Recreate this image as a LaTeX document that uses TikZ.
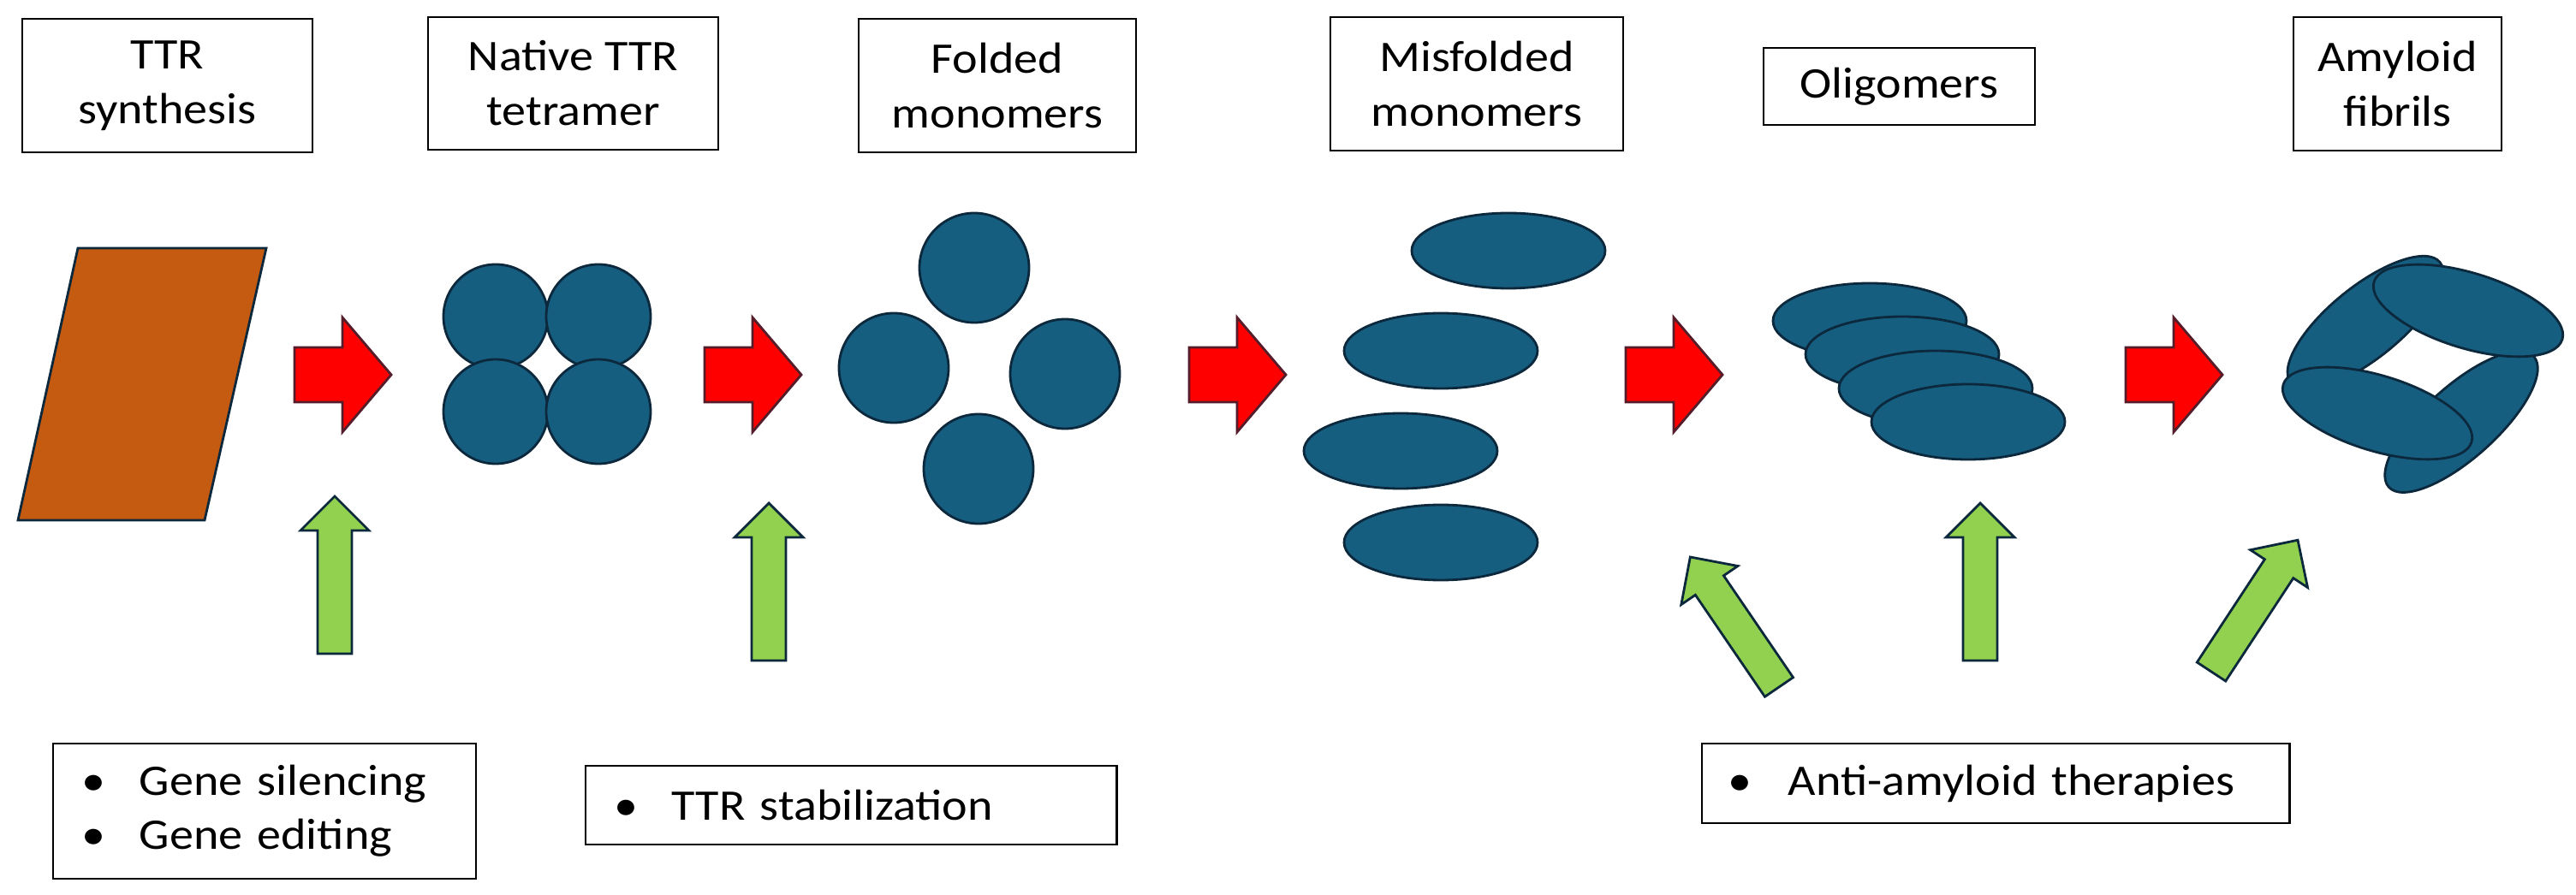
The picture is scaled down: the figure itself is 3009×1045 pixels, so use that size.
\documentclass[tikz,border=0pt]{standalone}
\usepackage{fontspec}
\setmainfont{Carlito}[FakeStretch=1.1]
\definecolor{blu}{RGB}{22,94,128}
\definecolor{navy}{RGB}{12,40,60}
\definecolor{grn}{RGB}{146,208,80}
\definecolor{rust}{RGB}{197,90,17}
\tikzset{
  lbl/.style={draw=black,line width=0.75pt,align=center,inner sep=0pt,font=\fontsize{14.5pt}{18.2pt}\selectfont},
  lst/.style={draw=black,line width=0.75pt,align=left,inner ysep=0pt,inner xsep=0.34cm,font=\fontsize{14.5pt}{18pt}\selectfont},
  blob/.style={fill=blu,draw=navy,line width=0.8pt},
  redarr/.style={fill=red,draw=navy!70!red,line width=0.8pt},
  grnarr/.style={fill=grn,draw=navy,line width=0.8pt}
}
\newcommand\myredarrow[1]{\path[redarr] (#1,639)--++(56,0)--++(0,35)--(#1+113,607)--(#1+56,540)--++(0,35)--(#1,575)--cycle;}
\newcommand\mygreenarrow[3]{\begin{scope}[shift={(#1,#2)},rotate=#3]\path[grnarr] (-20,0)--(20,0)--(20,144)--(40,144)--(0,184)--(-40,144)--(-20,144)--cycle;\end{scope}}
\newcommand\bul[1]{\makebox[0.67cm][l]{\textbullet}#1}
\begin{document}
\begin{tikzpicture}[x=0.01cm,y=0.01cm]
\useasboundingbox (0,0) rectangle (3009,1045);
% top labels
\node[lbl,minimum width=3.39cm,minimum height=1.56cm] (b1) at (195.5,945) {TTR\\synthesis};
\node[lbl,minimum width=3.39cm,minimum height=1.55cm] (b2) at (669.5,947.5) {Native TTR\\tetramer};
\node[lbl,minimum width=3.24cm,minimum height=1.56cm] (b3) at (1165,945) {Folded\\monomers};
\node[lbl,minimum width=3.42cm,minimum height=1.56cm] (b4) at (1725,947) {Misfolded\\monomers};
\node[lbl,minimum width=3.17cm,minimum height=0.90cm] (b5) at (2218.5,944) {Oligomers};
\node[lbl,minimum width=2.43cm,minimum height=1.56cm] (b6) at (2800.5,947) {Amyloid\\fibrils};
% bottom labels
\node[lst,text width=4.26cm,minimum height=1.58cm] (g) at (309,97) {\bul{Gene silencing}\\\bul{Gene editing}};
\node[lst,text width=5.52cm,minimum height=0.92cm] (t) at (994,104) {\bul{TTR stabilization}};
\node[lst,text width=6.18cm,minimum height=0.93cm,inner xsep=0.31cm,text width=6.24cm] (a) at (2331,129.5) {\makebox[0.70cm][l]{\textbullet}Anti-amyloid therapies};
% synthesis
\path[fill=rust,draw=navy,line width=0.8pt] (91,755)--(311,755)--(239,437)--(21,437)--cycle;
% tetramer
\foreach \p in {(579,675),(699,675),(579,564),(699,564)} \path[blob] \p circle (61);
% folded monomers
\foreach \p in {(1138,732),(1044,615),(1244,608),(1143,497)} \path[blob] \p circle (64);
% misfolded
\foreach \p in {(1762,752),(1683,635),(1636,518),(1683,411)} \path[blob] \p ellipse (113 and 44);
% oligomers
\foreach \p in {(2184,670),(2222,631),(2261,591),(2299,552)} \path[blob] \p ellipse (113 and 44);
% fibrils
\path[blob,rotate around={39:(2763,668)}] (2763,668) ellipse (112 and 42);
\path[blob,rotate around={42:(2875,552)}] (2875,552) ellipse (114 and 42);
\path[blob,rotate around={-17:(2883,682)}] (2883,682) ellipse (115 and 44);
\path[blob,rotate around={-17:(2777,562)}] (2777,562) ellipse (115 and 44);
% red arrows
\myredarrow{344}\myredarrow{823}\myredarrow{1389}\myredarrow{1899}\myredarrow{2483}
% green arrows
\mygreenarrow{391}{281}{0}
\mygreenarrow{898}{273}{0}
\mygreenarrow{2313}{273}{0}
\mygreenarrow{2078}{242}{34.3}
\mygreenarrow{2583}{260}{-33.3}
\end{tikzpicture}
\end{document}
